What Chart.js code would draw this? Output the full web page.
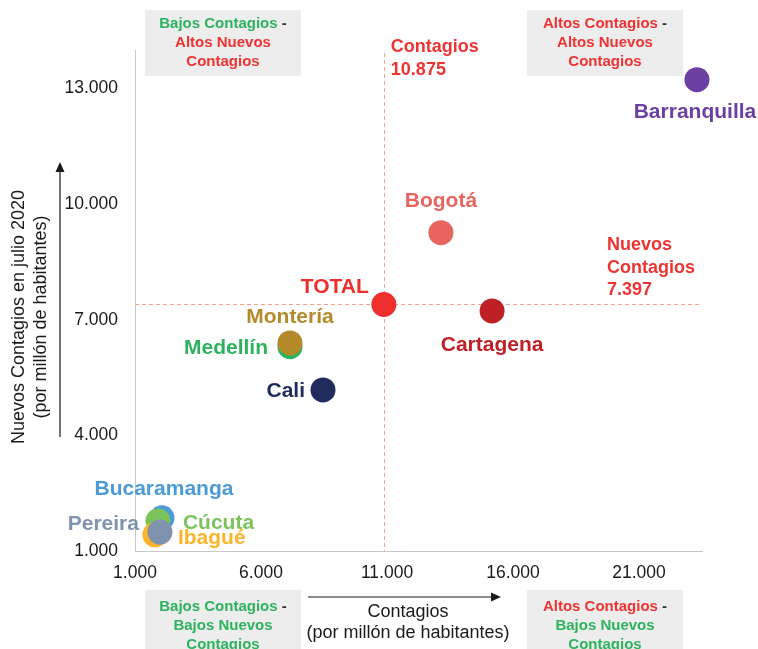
<!DOCTYPE html>
<html>
<head>
<meta charset="utf-8">
<script src="https://cdn.jsdelivr.net/npm/chart.js@4/dist/chart.umd.min.js"></script>
<style>
  html, body { margin: 0; padding: 0; background: #ffffff; }
  #wrap { width: 758px; height: 649px; position: relative; }
</style>
</head>
<body>
<div id="wrap"><canvas id="c" width="758" height="649"></canvas></div>
<script>
// ---- Data ----
const cities   = ['Bucaramanga', 'Cúcuta', 'Ibagué', 'Pereira', 'Medellín', 'Montería', 'Cali', 'TOTAL', 'Cartagena', 'Bogotá', 'Barranquilla'];
const contagios = [2070, 1910, 1790, 1990, 7150, 7150, 8460, 10875, 15170, 13140, 23300];
const nuevosContagios = [1860, 1780, 1420, 1490, 6300, 6400, 5180, 7397, 7230, 9260, 13230];
const xTickValues = [1000, 6000, 11000, 16000, 21000];
const yTickValues = [1000, 4000, 7000, 10000, 13000];
const avgContagios = 10875;
const avgNuevos = 7397;

// ---- Styles ----
const pointColors = ['#4A9BD6', '#7CC35B', '#FDB42A', '#7F93AE', '#2DB35E', '#B48A2B', '#1F2C5C', '#EE2D2D', '#BE2026', '#E8645F', '#6C3FA2'];
const labelColors = ['#4A9BD6', '#7CC35B', '#FDB42A', '#7F93AE', '#2DB35E', '#B48A2B', '#1F2C5C', '#EE2D2D', '#BE2026', '#E8645F', '#6C3FA2'];
// label placement relative to point (pixels) + alignment
const labelPlacement = [
  {dx: 2, dy: -29, align: 'center'},
  {dx: 25, dy: 2, align: 'left'},
  {dx: 23, dy: 3, align: 'left'},
  {dx: -21, dy: -8, align: 'right'},
  {dx: -22, dy: 1, align: 'right'},
  {dx: 0, dy: -26, align: 'center'},
  {dx: -18, dy: 1, align: 'right'},
  {dx: -15, dy: -17, align: 'right'},
  {dx: 0, dy: 34, align: 'center'},
  {dx: 0, dy: -31, align: 'center'},
  {dx: -2, dy: 33, align: 'center'}
];

const FONT = '"Liberation Sans", Arial, Helvetica, sans-serif';
const RED = '#EE3333';
const GREEN = '#2DB35E';

function fmt(v) { return String(v).replace(/\B(?=(\d{3})+(?!\d))/g, '.'); }

const decorPlugin = {
  id: 'decor',
  beforeDatasetsDraw(chart) {
    const ctx = chart.ctx;
    const xs = chart.scales.x, ys = chart.scales.y;
    const ca = chart.chartArea;
    ctx.save();
    ctx.strokeStyle = '#F3A08C';
    ctx.lineWidth = 1;
    ctx.setLineDash([4, 3]);
    const vx = Math.round(xs.getPixelForValue(avgContagios)) + 0.5;
    ctx.beginPath(); ctx.moveTo(vx, ca.top + 3); ctx.lineTo(vx, ca.bottom); ctx.stroke();
    const hy = Math.round(ys.getPixelForValue(avgNuevos)) + 0.5;
    ctx.beginPath(); ctx.moveTo(ca.left, hy); ctx.lineTo(ca.right - 2, hy); ctx.stroke();
    ctx.restore();
  },
  afterDatasetsDraw(chart) {
    const ctx = chart.ctx;
    const meta = chart.getDatasetMeta(0);
    ctx.save();
    ctx.font = 'bold 21px ' + FONT;
    ctx.textBaseline = 'middle';
    meta.data.forEach((pt, i) => {
      const p = labelPlacement[i];
      ctx.fillStyle = labelColors[i];
      ctx.textAlign = p.align;
      ctx.fillText(cities[i], pt.x + p.dx, pt.y + p.dy);
    });
    ctx.restore();
  },
  afterDraw(chart) {
    const ctx = chart.ctx;
    const xs = chart.scales.x, ys = chart.scales.y;
    ctx.save();
    // reference line labels
    ctx.font = 'bold 18px ' + FONT;
    ctx.fillStyle = RED;
    ctx.textAlign = 'left';
    ctx.textBaseline = 'middle';
    const vx = xs.getPixelForValue(avgContagios);
    ctx.fillText('Contagios', vx + 7, 47);
    ctx.fillText(fmt(avgContagios), vx + 7, 70);
    const hy = ys.getPixelForValue(avgNuevos);
    ctx.fillText('Nuevos', 607, hy - 59);
    ctx.fillText('Contagios', 607, hy - 36);
    ctx.fillText(fmt(avgNuevos), 607, hy - 14);

    // quadrant boxes
    function box(x, y, w, h, lines) {
      ctx.fillStyle = '#EDEDED';
      ctx.fillRect(x, y, w, h);
      ctx.font = 'bold 15px ' + FONT;
      ctx.textBaseline = 'middle';
      const cx = x + w / 2;
      lines.forEach((ln) => {
        const parts = ln.parts;
        let total = 0;
        parts.forEach(pp => total += ctx.measureText(pp[0]).width);
        let sx = cx - total / 2;
        ctx.textAlign = 'left';
        parts.forEach(pp => {
          ctx.fillStyle = pp[1];
          ctx.fillText(pp[0], sx, ln.y);
          sx += ctx.measureText(pp[0]).width;
        });
      });
    }
    box(145, 10, 156, 66, [
      {y: 24, parts: [['Bajos Contagios', GREEN], [' -', '#333']]},
      {y: 43, parts: [['Altos Nuevos', RED]]},
      {y: 62, parts: [['Contagios', RED]]}
    ]);
    box(527, 10, 156, 66, [
      {y: 24, parts: [['Altos Contagios', RED], [' -', '#333']]},
      {y: 43, parts: [['Altos Nuevos', RED]]},
      {y: 62, parts: [['Contagios', RED]]}
    ]);
    box(145, 590, 156, 59, [
      {y: 607, parts: [['Bajos Contagios', GREEN], [' -', '#333']]},
      {y: 626, parts: [['Bajos Nuevos', GREEN]]},
      {y: 645, parts: [['Contagios', GREEN]]}
    ]);
    box(527, 590, 156, 59, [
      {y: 607, parts: [['Altos Contagios', RED], [' -', '#333']]},
      {y: 626, parts: [['Bajos Nuevos', GREEN]]},
      {y: 645, parts: [['Contagios', GREEN]]}
    ]);

    // axis titles
    ctx.fillStyle = '#1a1a1a';
    ctx.font = '18px ' + FONT;
    ctx.textAlign = 'center';
    ctx.textBaseline = 'middle';
    ctx.fillText('Contagios', 408, 612);
    ctx.fillText('(por millón de habitantes)', 408, 633);
    ctx.save();
    ctx.translate(19, 317);
    ctx.rotate(-Math.PI / 2);
    ctx.fillText('Nuevos Contagios en julio 2020', 0, 0);
    ctx.fillText('(por millón de habitantes)', 0, 22);
    ctx.restore();

    // arrows
    ctx.strokeStyle = '#1a1a1a';
    ctx.fillStyle = '#1a1a1a';
    ctx.lineWidth = 1.2;
    ctx.beginPath(); ctx.moveTo(60, 437); ctx.lineTo(60, 170); ctx.stroke();
    ctx.beginPath(); ctx.moveTo(60, 162); ctx.lineTo(55.5, 172); ctx.lineTo(64.5, 172); ctx.closePath(); ctx.fill();
    ctx.beginPath(); ctx.moveTo(308, 597); ctx.lineTo(493, 597); ctx.stroke();
    ctx.beginPath(); ctx.moveTo(501, 597); ctx.lineTo(491, 592.5); ctx.lineTo(491, 601.5); ctx.closePath(); ctx.fill();
    ctx.restore();
  }
};

new Chart(document.getElementById('c'), {
  type: 'scatter',
  data: {
    datasets: [{
      data: contagios.map((x, i) => ({x: x, y: nuevosContagios[i]})),
      backgroundColor: pointColors,
      borderColor: pointColors,
      borderWidth: 0,
      pointRadius: 12.5,
      pointHoverRadius: 12.5,
      clip: false
    }]
  },
  options: {
    responsive: false,
    animation: false,
    devicePixelRatio: 1,
    layout: { padding: { left: 0, top: 50, right: 56, bottom: 58 } },
    plugins: { legend: { display: false }, tooltip: { enabled: false } },
    scales: {
      x: {
        type: 'linear',
        min: 1000,
        max: 23500,
        afterBuildTicks: (axis) => { axis.ticks = xTickValues.map(v => ({value: v})); },
        afterFit: (s) => { s.height = 40; },
        grid: { display: false, drawTicks: false },
        border: { display: true, color: '#C8C8C8', width: 1 },
        ticks: {
          color: '#1a1a1a',
          font: { family: FONT, size: 17.5 },
          padding: 12,
          maxRotation: 0,
          callback: (v) => fmt(v)
        }
      },
      y: {
        type: 'linear',
        min: 1000,
        max: 14000,
        afterBuildTicks: (axis) => { axis.ticks = yTickValues.map(v => ({value: v})); },
        afterFit: (s) => { s.width = 135; },
        grid: { display: false, drawTicks: false },
        border: { display: true, color: '#C8C8C8', width: 1 },
        ticks: {
          color: '#1a1a1a',
          font: { family: FONT, size: 17.5 },
          padding: 17,
          callback: (v) => fmt(v)
        }
      }
    }
  },
  plugins: [decorPlugin]
});
</script>
</body>
</html>
